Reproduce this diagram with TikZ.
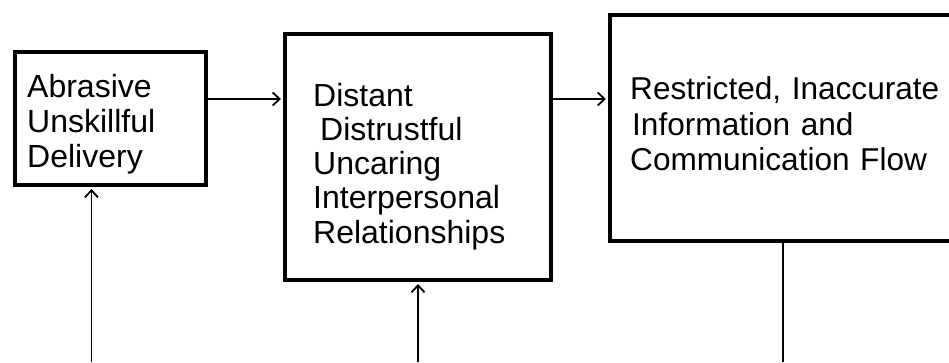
\documentclass[tikz,border=0pt]{standalone}
\usepackage{fontspec}
\setmainfont{Liberation Sans}
\usetikzlibrary{arrows.meta, positioning, calc}

\begin{document}
\begin{tikzpicture}[
  x=1pt, y=-1pt,
  box/.style={draw, line width=4pt, rectangle, inner sep=0pt},
  label/.style={anchor=base west, align=left, inner sep=0pt, text width=340pt},
  link/.style={line width=1.8pt},
  >={Straight Barb[length=7pt,width=13pt]}
]
  \useasboundingbox (0,0) rectangle (949,362);
  \clip (0,0) rectangle (949,362);

  % Boxes
  \node[box, minimum width=191pt, minimum height=133pt] (delivery) at (110.5,118.5) {};
  \node[box, minimum width=266pt, minimum height=246pt] (relations) at (418,157) {};
  \node[box, minimum width=400pt, minimum height=226pt] (info) at (810,128) {};

  % Box texts
  \node[label, font=\fontsize{32}{35.3}\selectfont] (delivery-txt) at (27,97)
    {Abrasive\\Unskillful\\Delivery};
  \node[label, font=\fontsize{32}{34.3}\selectfont] (relations-txt) at (313,106)
    {Distant\\\hspace{7pt}Distrustful\\Uncaring\\Interpersonal\\Relationships};
  \node[label, font=\fontsize{31.6}{35.7}\selectfont] (info-txt) at (630,99.5)
    {Restricted, Inaccurate\\\hspace{2pt}Information and\\Communication Flow};

  % Arrows between boxes
  \coordinate (row) at (0,99);
  \draw[link, ->, shorten >=2pt] (row -| delivery.east) -- (row -| relations.west);
  \draw[link, ->, shorten >=2pt] (row -| relations.east) -- (row -| info.west);

  % Lines from below
  \coordinate (inA) at (91.5,362);
  \coordinate (inB) at (418,362);
  \coordinate (outC) at (783,362);
  \draw[link, ->, shorten >=2pt] (inA) -- (inA |- delivery.south);
  \draw[link, ->, shorten >=2pt] (inB) -- (relations.south);
  \draw[link] (outC |- info.south) -- (outC);
\end{tikzpicture}
\end{document}
